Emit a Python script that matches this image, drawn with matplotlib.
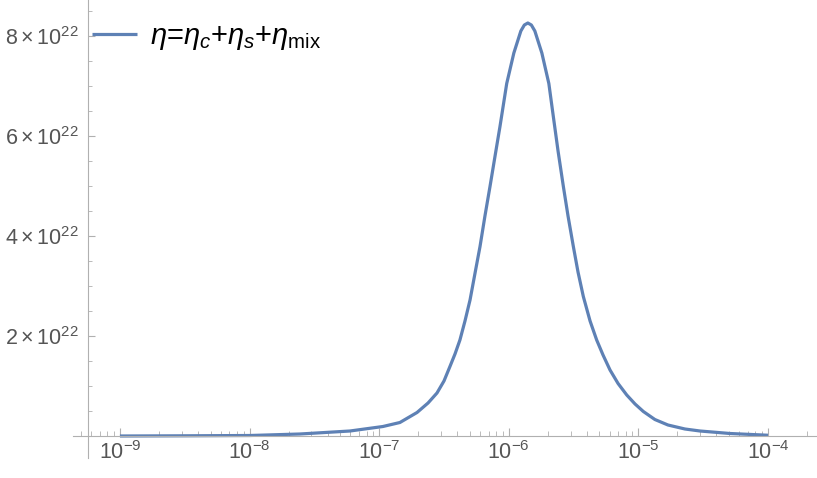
import numpy as np
import matplotlib
matplotlib.use('Agg')
import matplotlib.pyplot as plt
from matplotlib.ticker import FixedLocator, MultipleLocator, FuncFormatter, LogLocator, NullFormatter

plt.rcParams['mathtext.fontset'] = 'custom'
plt.rcParams['mathtext.rm'] = 'Liberation Sans'
plt.rcParams['mathtext.it'] = 'Liberation Sans:italic'
plt.rcParams['font.family'] = 'Liberation Sans'

# curve: log10(x) and eta in units of 1e22
log_x = [-9.0, -8.498, -7.997, -7.611, -7.225, -6.971, -6.840, -6.708, -6.623,
         -6.554, -6.500, -6.454, -6.415, -6.377, -6.338, -6.299, -6.261, -6.222,
         -6.184, -6.145, -6.106, -6.068, -6.016, -5.961, -5.907, -5.880, -5.853,
         -5.826, -5.799, -5.745, -5.691, -5.657, -5.620, -5.579, -5.543, -5.502,
         -5.466, -5.425, -5.373, -5.322, -5.273, -5.219, -5.157, -5.090, -5.026,
         -4.962, -4.873, -4.772, -4.641, -4.525, -4.293, -4.0]
eta = [0.0, 0.004, 0.01, 0.04, 0.10, 0.19, 0.27, 0.47, 0.66,
       0.86, 1.10, 1.39, 1.64, 1.92, 2.30, 2.72, 3.25, 3.79,
       4.40, 4.99, 5.60, 6.19, 7.05, 7.66, 8.10, 8.22, 8.26,
       8.22, 8.10, 7.66, 7.05, 6.40, 5.70, 4.99, 4.40, 3.79,
       3.28, 2.79, 2.30, 1.92, 1.62, 1.32, 1.05, 0.82, 0.64,
       0.49, 0.33, 0.22, 0.14, 0.10, 0.05, 0.015]

x_ticks = [1e-9, 1e-8, 1e-7, 1e-6, 1e-5, 1e-4]
y_ticks = [2, 4, 6, 8]
legend_label = r'$\eta$=$\eta_c$+$\eta_s$+$\eta_{\mathrm{mix}}$'

def main():
  W, H = 817, 478
  fig = plt.figure(figsize=(W / 100, H / 100), dpi=100)
  ax = fig.add_axes([73 / W, 20 / H, (816 - 73) / W, (H - 20) / H])

  x = 10 ** np.array(log_x)
  line, = ax.plot(x, eta, color='#5E81B5', lw=2.3, solid_capstyle='butt',
                  solid_joinstyle='round', label=legend_label)

  ax.set_xscale('log')
  ax.set_xlim(10 ** -9.362, 10 ** -3.63)
  ax.set_ylim(-0.44, 8.72)

  gray = '#b0b0b0'
  for s in ['top', 'right']:
    ax.spines[s].set_visible(False)
  ax.spines['bottom'].set_position(('data', 0))
  ax.spines['left'].set_position(('data', 10 ** -9.247))
  ax.spines['bottom'].set_color(gray)
  ax.spines['left'].set_color(gray)

  ax.xaxis.set_major_locator(FixedLocator(x_ticks))
  ax.xaxis.set_minor_locator(LogLocator(base=10, subs=np.arange(2, 10), numticks=50))
  ax.xaxis.set_minor_formatter(NullFormatter())
  ax.xaxis.set_major_formatter(FuncFormatter(lambda v, p: r'$10^{%d}$' % round(np.log10(v))))

  ax.yaxis.set_major_locator(FixedLocator(y_ticks))
  ax.yaxis.set_minor_locator(MultipleLocator(0.5))
  ax.yaxis.set_major_formatter(FuncFormatter(lambda v, p: r'$%d\times10^{22}$' % v))

  ax.tick_params(which='both', direction='in', color=gray, labelcolor='#555555',
                 labelsize=15.5)
  ax.tick_params(axis='x', which='major', length=6, pad=4)
  ax.tick_params(axis='x', which='minor', length=3.5)
  ax.tick_params(axis='y', which='major', length=5, pad=6.5)
  ax.tick_params(axis='y', which='minor', length=3)

  ax.legend(handles=[line], loc='center left', bbox_to_anchor=(92 / W, 1 - 37 / H),
            bbox_transform=fig.transFigure, frameon=False, fontsize=21,
            handlelength=1.55, handletextpad=0.45, borderpad=0, borderaxespad=0)

  plt.savefig('out.png', dpi=100)

if __name__ == "__main__":
  main()
